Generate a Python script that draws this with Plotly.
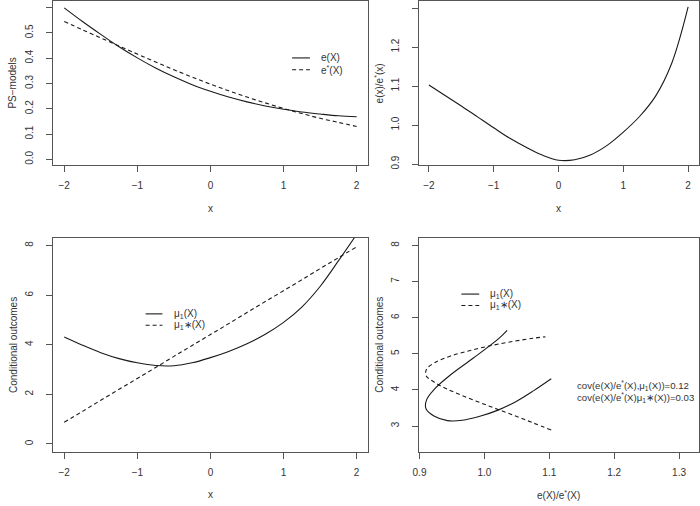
import plotly.graph_objects as go

W, H = 700, 506

# ---------------- data ----------------
x_grid = [-2, -1.75, -1.5, -1.25, -1, -0.75, -0.5, -0.25, 0,
          0.25, 0.5, 0.75, 1, 1.25, 1.5, 1.75, 2]

e_X = [0.599, 0.545, 0.494, 0.445, 0.401, 0.361, 0.326, 0.295, 0.269,
       0.246, 0.227, 0.211, 0.198, 0.187, 0.179, 0.172, 0.168]
e_star_X = [0.545, 0.512, 0.480, 0.448, 0.416, 0.385, 0.354, 0.325, 0.297,
            0.271, 0.246, 0.223, 0.201, 0.181, 0.162, 0.146, 0.130]

ratio_X = [1.103, 1.076, 1.049, 1.021, 0.993, 0.966, 0.943, 0.923, 0.910,
           0.911, 0.924, 0.948, 0.982, 1.022, 1.075, 1.160, 1.303]

mu1_X = [4.31, 3.98, 3.68, 3.44, 3.27, 3.16, 3.15, 3.27, 3.48,
         3.73, 4.04, 4.42, 4.90, 5.52, 6.35, 7.38, 8.45]
mu1_star_X = [0.87, 1.31, 1.76, 2.20, 2.64, 3.08, 3.53, 3.97, 4.41,
              4.85, 5.30, 5.74, 6.18, 6.62, 7.07, 7.51, 7.95]

p4_solid_ratio = [1.103, 1.076, 1.049, 1.021, 0.993, 0.966, 0.943, 0.923,
                  0.910, 0.911, 0.924, 0.948, 0.982, 1.022, 1.035]
p4_solid_mu = [4.31, 3.98, 3.68, 3.44, 3.27, 3.16, 3.15, 3.27,
               3.48, 3.73, 4.04, 4.42, 4.87, 5.42, 5.65]
p4_dash_ratio = [1.103, 1.076, 1.049, 1.021, 0.993, 0.966, 0.943, 0.923,
                 0.910, 0.911, 0.924, 0.948, 0.982, 1.022, 1.075, 1.094]
p4_dash_mu = [2.89, 3.08, 3.27, 3.46, 3.65, 3.84, 4.02, 4.21,
              4.40, 4.58, 4.76, 4.94, 5.11, 5.27, 5.43, 5.47]

x_ticks = [-2, -1, 0, 1, 2]
p1_yticks = [0.0, 0.1, 0.2, 0.3, 0.4, 0.5, 0.6]
p2_yticks = [0.9, 1.0, 1.1, 1.2, 1.3]
p3_yticks = [0, 2, 4, 6, 8]
p4_xticks = [0.9, 1.0, 1.1, 1.2, 1.3]
p4_yticks = [3, 4, 5, 6, 7, 8]

cov_texts = ["cov(e(X)/e<sup>*</sup>(X),\u03bc<sub>1</sub>(X))=0.12",
             "cov(e(X)/e<sup>*</sup>(X)\u03bc<sub>1</sub>\u2217(X))=0.03"]

# ---------------- styling ----------------
FONT = "Liberation Sans, Arial, Helvetica, sans-serif"
FS = 10
TXT = "#333333"
AXC = "#555555"
LC = "#1a1a1a"
DASH = "4px,3px"


def xd(a, b):
    return [a / W, b / W]


def yd(top, bottom):
    return [(H - bottom) / H, (H - top) / H]


def px(x):
    return x / W


def py(y):
    return 1 - y / H


fig = go.Figure()


def add(x, y, xa, ya, dash=None, name=None):
    fig.add_trace(go.Scatter(
        x=x, y=y, mode="lines", xaxis=xa, yaxis=ya, name=name,
        showlegend=False, hoverinfo="skip",
        line=dict(color=LC, width=1.1, dash=dash, shape="spline", smoothing=1.0)))


add(x_grid, e_X, "x", "y", None, "e(X)")
add(x_grid, e_star_X, "x", "y", DASH, "e*(X)")
add(x_grid, ratio_X, "x2", "y2", None, "e(x)/e*(x)")
add(x_grid, mu1_X, "x3", "y3", None, "mu1(X)")
add(x_grid, mu1_star_X, "x3", "y3", DASH, "mu1*(X)")
add(p4_solid_ratio, p4_solid_mu, "x4", "y4", None, "mu1(X)")
add(p4_dash_ratio, p4_dash_mu, "x4", "y4", DASH, "mu1*(X)")

common = dict(showline=True, mirror=True, linecolor=AXC, linewidth=1,
              ticks="outside", ticklen=6, tickwidth=1, tickcolor=AXC,
              showgrid=False, zeroline=False,
              tickfont=dict(family=FONT, size=FS, color=TXT))
xc = dict(common, ticklabelstandoff=5)
yc = dict(common, ticklabelstandoff=9, tickangle=-90)

P = {
    1: dict(xd=xd(47, 366), yd=yd(0.5, 166)),
    2: dict(xd=xd(416.7, 699.5), yd=yd(0.5, 166)),
    3: dict(xd=xd(47, 366), yd=yd(239, 455.3)),
    4: dict(xd=xd(416.7, 699.5), yd=yd(239, 455.3)),
}

fig.update_layout(
    xaxis=dict(domain=P[1]["xd"], anchor="y", range=[-2.16, 2.16], tickvals=x_ticks, **xc),
    yaxis=dict(domain=P[1]["yd"], anchor="x", range=[-0.024, 0.624], tickvals=p1_yticks,
               tickformat=".1f", **yc),
    xaxis2=dict(domain=P[2]["xd"], anchor="y2", range=[-2.16, 2.16], tickvals=x_ticks, **xc),
    yaxis2=dict(domain=P[2]["yd"], anchor="x2", range=[0.8967, 1.317], tickvals=p2_yticks,
                tickformat=".1f", **yc),
    xaxis3=dict(domain=P[3]["xd"], anchor="y3", range=[-2.16, 2.16], tickvals=x_ticks, **xc),
    yaxis3=dict(domain=P[3]["yd"], anchor="x3", range=[-0.32, 8.32], tickvals=p3_yticks, **yc),
    xaxis4=dict(domain=P[4]["xd"], anchor="y4", range=[0.8985, 1.33], tickvals=p4_xticks,
                tickformat=".1f", **xc),
    yaxis4=dict(domain=P[4]["yd"], anchor="x4", range=[2.286, 8.217], tickvals=p4_yticks, **yc),
)

# axis titles as text positioned like the R layout
titles = [
    ("x", 206.5, 209.5, 0),
    ("x", 558, 209.5, 0),
    ("x", 206.5, 498.5, 0),
    ("e(X)/e<sup>*</sup>(X)", 558, 498.5, 0),
    ("PS\u2212models", 6.5, 83, -90),
    ("e(x)/e<sup>*</sup>(x)", 377, 83, -90),
    ("Conditional outcomes", 7.5, 347, -90),
    ("Conditional outcomes", 377, 347, -90),
]
for t, x, y, ang in titles:
    fig.add_annotation(text=t, x=px(x), y=py(y), xref="paper", yref="paper",
                       showarrow=False, textangle=ang, xanchor="center", yanchor="middle",
                       font=dict(family=FONT, size=FS, color=TXT))

# legends drawn as R does (short line sample + label)
legends = [
    (289, 307, 316, 57.5, "e(X)", None),
    (289, 307, 316, 69.5, "e<sup>*</sup>(X)", "dash"),
    (141, 158, 168, 316, "\u03bc<sub>1</sub>(X)", None),
    (141, 158, 168, 327.5, "\u03bc<sub>1</sub>\u2217(X)", "dash"),
    (460, 478, 487, 296, "\u03bc<sub>1</sub>(X)", None),
    (460, 478, 487, 307.5, "\u03bc<sub>1</sub>\u2217(X)", "dash"),
]
for x0, x1, xt, y, t, d in legends:
    fig.add_shape(type="line", xref="paper", yref="paper", x0=px(x0), x1=px(x1),
                  y0=py(y), y1=py(y),
                  line=dict(color=LC, width=1.1, dash=DASH if d else "solid"))
    fig.add_annotation(text=t, x=px(xt), y=py(y), xref="paper", yref="paper",
                       showarrow=False, xanchor="left", yanchor="middle",
                       font=dict(family=FONT, size=FS, color=TXT))

for i, t in enumerate(cov_texts):
    fig.add_annotation(text=t, x=px(575), y=py(388 + 12 * i), xref="paper", yref="paper",
                       showarrow=False, xanchor="left", yanchor="middle",
                       font=dict(family=FONT, size=9.6, color=TXT))

fig.update_layout(width=W, height=H, margin=dict(l=0, r=0, t=0, b=0),
                  paper_bgcolor="white", plot_bgcolor="white",
                  font=dict(family=FONT, size=FS, color=TXT))

fig.write_html("out.html", config={"displayModeBar": False},
               post_script="document.body.style.margin='0';document.body.style.overflow='hidden';")
